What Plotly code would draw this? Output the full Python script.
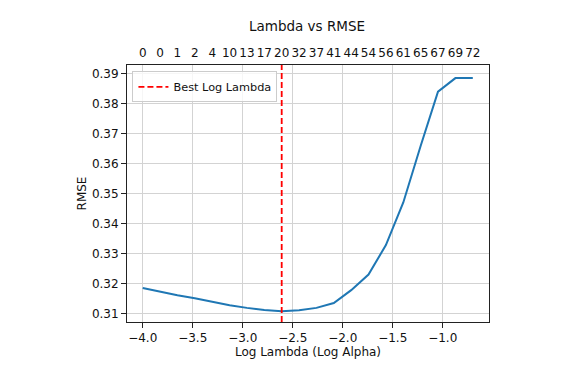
import plotly.graph_objects as go

# log10(alpha) grid and cross-validated RMSE
log_lambda = [-4.000, -3.826, -3.653, -3.479, -3.305, -3.131, -2.958, -2.784,
              -2.610, -2.436, -2.263, -2.089, -1.915, -1.742, -1.568, -1.394,
              -1.220, -1.047, -0.873, -0.699]
rmse = [0.3185, 0.3172, 0.3161, 0.3151, 0.3139, 0.3128, 0.3119, 0.3112,
        0.3108, 0.3111, 0.3119, 0.3135, 0.3178, 0.3230, 0.3328, 0.3470,
        0.3659, 0.3839, 0.3884, 0.3884]
# number of non-zero coefficients (top axis)
n_features = ['0', '0', '1', '2', '4', '10', '13', '17', '20', '32', '37',
              '41', '44', '54', '56', '61', '65', '67', '69', '72']
best_log_lambda = -2.610

x_range = [-4.157, -0.537]
y_range = [0.30720, 0.39277]
FONT = 'DejaVu Sans'
TICK_SIZE = 12

# page body has an 8px margin, so the figure is a little smaller
W, H = 573, 371

fig = go.Figure()

fig.add_trace(go.Scatter(
    x=log_lambda, y=rmse, mode='lines',
    line=dict(color='#1f77b4', width=2),
    showlegend=False
))

fig.add_trace(go.Scatter(
    x=[best_log_lambda, best_log_lambda], y=y_range, mode='lines',
    line=dict(color='red', width=1.8, dash='6px,3px'),
    name='Best Log Lambda'
))

# invisible trace to drive the top axis
fig.add_trace(go.Scatter(
    x=log_lambda, y=rmse, mode='lines', xaxis='x2',
    line=dict(width=0), hoverinfo='skip', showlegend=False
))

axis_common = dict(
    showline=True, linecolor='#222', linewidth=1, mirror=True,
    showgrid=True, gridcolor='#d3d3d3', gridwidth=1, zeroline=False,
    automargin=False,
    tickfont=dict(family=FONT, size=TICK_SIZE, color='#111'),
)

fig.update_layout(
    width=W, height=H,
    margin=dict(l=119, r=92, t=57, b=57),
    paper_bgcolor='white', plot_bgcolor='white',
    font=dict(family=FONT, size=TICK_SIZE, color='#111'),
    title=dict(text='Lambda vs RMSE', x=299 / W, xanchor='center',
               y=1 - 18 / H, yanchor='middle', yref='container',
               font=dict(family=FONT, size=13.5, color='#111')),
    xaxis=dict(
        range=x_range, tickvals=[-4.0, -3.5, -3.0, -2.5, -2.0, -1.5, -1.0],
        ticktext=['\u22124.0', '\u22123.5', '\u22123.0', '\u22122.5',
                  '\u22122.0', '\u22121.5', '\u22121.0'],
        ticks='outside', ticklen=5, tickcolor='#222',
        title=dict(text='Log Lambda (Log Alpha)', standoff=3,
                   font=dict(family=FONT, size=TICK_SIZE, color='#111')),
        **axis_common
    ),
    xaxis2=dict(
        range=x_range, overlaying='x', side='top', anchor='y',
        tickvals=log_lambda, ticktext=n_features, ticks='',
        showgrid=False, zeroline=False, showline=False, automargin=False,
        ticklabelstandoff=5,
        tickfont=dict(family=FONT, size=TICK_SIZE, color='#111'),
    ),
    yaxis=dict(
        range=y_range, tickvals=[0.31, 0.32, 0.33, 0.34, 0.35, 0.36, 0.37, 0.38, 0.39],
        tickformat='.2f', ticks='outside', ticklen=5, tickcolor='#222',
        title=dict(text='RMSE', standoff=2,
                   font=dict(family=FONT, size=TICK_SIZE, color='#111')),
        **axis_common
    ),
    legend=dict(x=0.015, y=0.975, xanchor='left', yanchor='top',
                bgcolor='rgba(255,255,255,0.8)', bordercolor='#cccccc',
                borderwidth=1, font=dict(family=FONT, size=11.3, color='#111'),
                itemwidth=30),
)

fig.write_html("out.html")
